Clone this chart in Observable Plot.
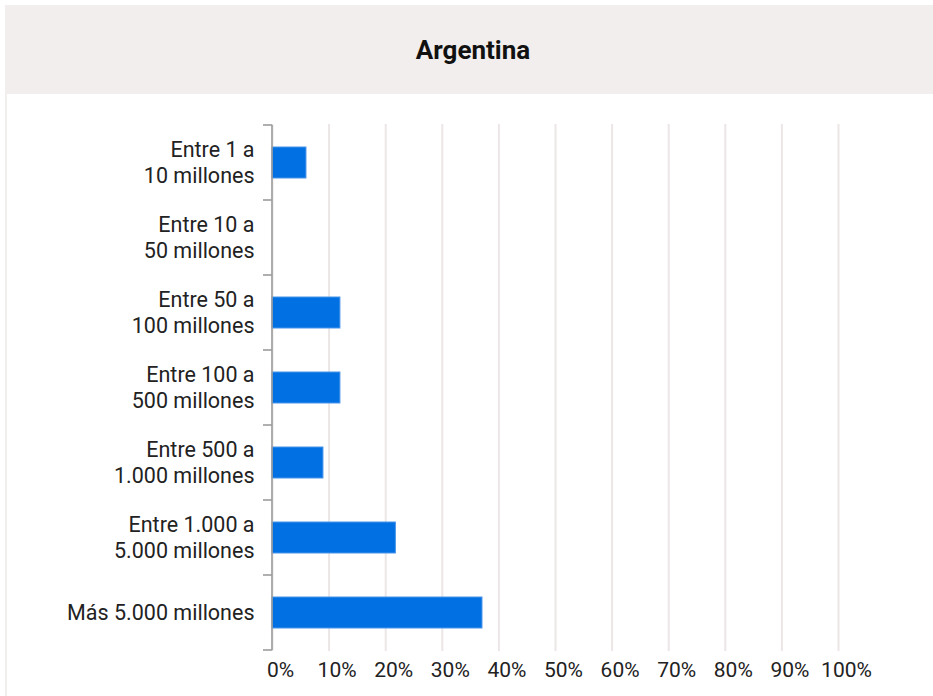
<!DOCTYPE html>
<html><head><meta charset="utf-8">
<script src="https://cdn.jsdelivr.net/npm/d3@7"></script>
<script src="https://cdn.jsdelivr.net/npm/@observablehq/plot@0.6"></script>
<style>
body{margin:0;background:#fff;width:933px;height:696px;overflow:hidden;position:relative;font-family:Roboto,sans-serif;}
#header{position:absolute;left:5px;top:5px;width:936px;height:89px;background:#f2eeed;display:flex;align-items:center;justify-content:center;font-weight:700;font-size:26px;color:#111;}
#border{position:absolute;left:5px;top:94px;width:2px;height:610px;background:#f2eeee;}
#chart{position:absolute;left:0;top:95px;}
</style></head><body>
<div id="header">Argentina</div><div id="border"></div><div id="chart"></div>
<script>
const title = "Argentina";
const categories = [
  "Entre 1 a\n10 millones",
  "Entre 10 a\n50 millones",
  "Entre 50 a\n100 millones",
  "Entre 100 a\n500 millones",
  "Entre 500 a\n1.000 millones",
  "Entre 1.000 a\n5.000 millones",
  "Más 5.000 millones"
];
const shares = [0.06, 0, 0.12, 0.12, 0.09, 0.218, 0.371];
const xTicks = [0, 0.1, 0.2, 0.3, 0.4, 0.5, 0.6, 0.7, 0.8, 0.9, 1];

document.getElementById("header").textContent = title;
const data = categories.map((c, i) => ({cat: c, share: shares[i]}));

const axisFrame = (index, scales) => {
  const y = scales.y, x = scales.x;
  const starts = categories.map(c => y(c));
  const step = starts[1] - starts[0];
  const pos = [...starts, starts[starts.length - 1] + step];
  const x0 = x(0);
  const g = d3.create("svg:g").attr("stroke", "#9c9c9c").attr("stroke-width", 1.6);
  g.append("line").attr("x1", x0).attr("x2", x0).attr("y1", pos[0]).attr("y2", pos[pos.length - 1]);
  pos.forEach(p => g.append("line").attr("x1", x0 - 9).attr("x2", x0).attr("y1", p).attr("y2", p));
  return g.node();
};

const chart = Plot.plot({
  width: 933,
  height: 601,
  marginTop: 29,
  marginBottom: 45,
  marginLeft: 272,
  marginRight: 95,
  style: {fontSize: "21px", fontFamily: "Roboto, sans-serif", color: "#222", background: "transparent"},
  x: {domain: [0, 1], nice: false},
  y: {domain: categories, padding: 0},
  marks: [
    Plot.gridX(xTicks, {stroke: "#ece6e6", strokeWidth: 2, strokeOpacity: 1}),
    Plot.barX(data, {y: "cat", x: "share", fill: "#0070e2", stroke: "#4a95ea", strokeWidth: 1, insetTop: 22, insetBottom: 22}),
    Plot.axisX({ticks: xTicks, tickFormat: d3.format(".0%"), tickSize: 0, tickPadding: 11, dx: 8, fill: "#222", label: null}),
    Plot.axisY({tickSize: 0, tickPadding: 18, lineHeight: 1.2, fontSize: 21.5, dy: -1, fill: "#222", label: null, tickFormat: d => d}),
    axisFrame
  ]
});
document.getElementById("chart").appendChild(chart);
</script>
</body></html>
